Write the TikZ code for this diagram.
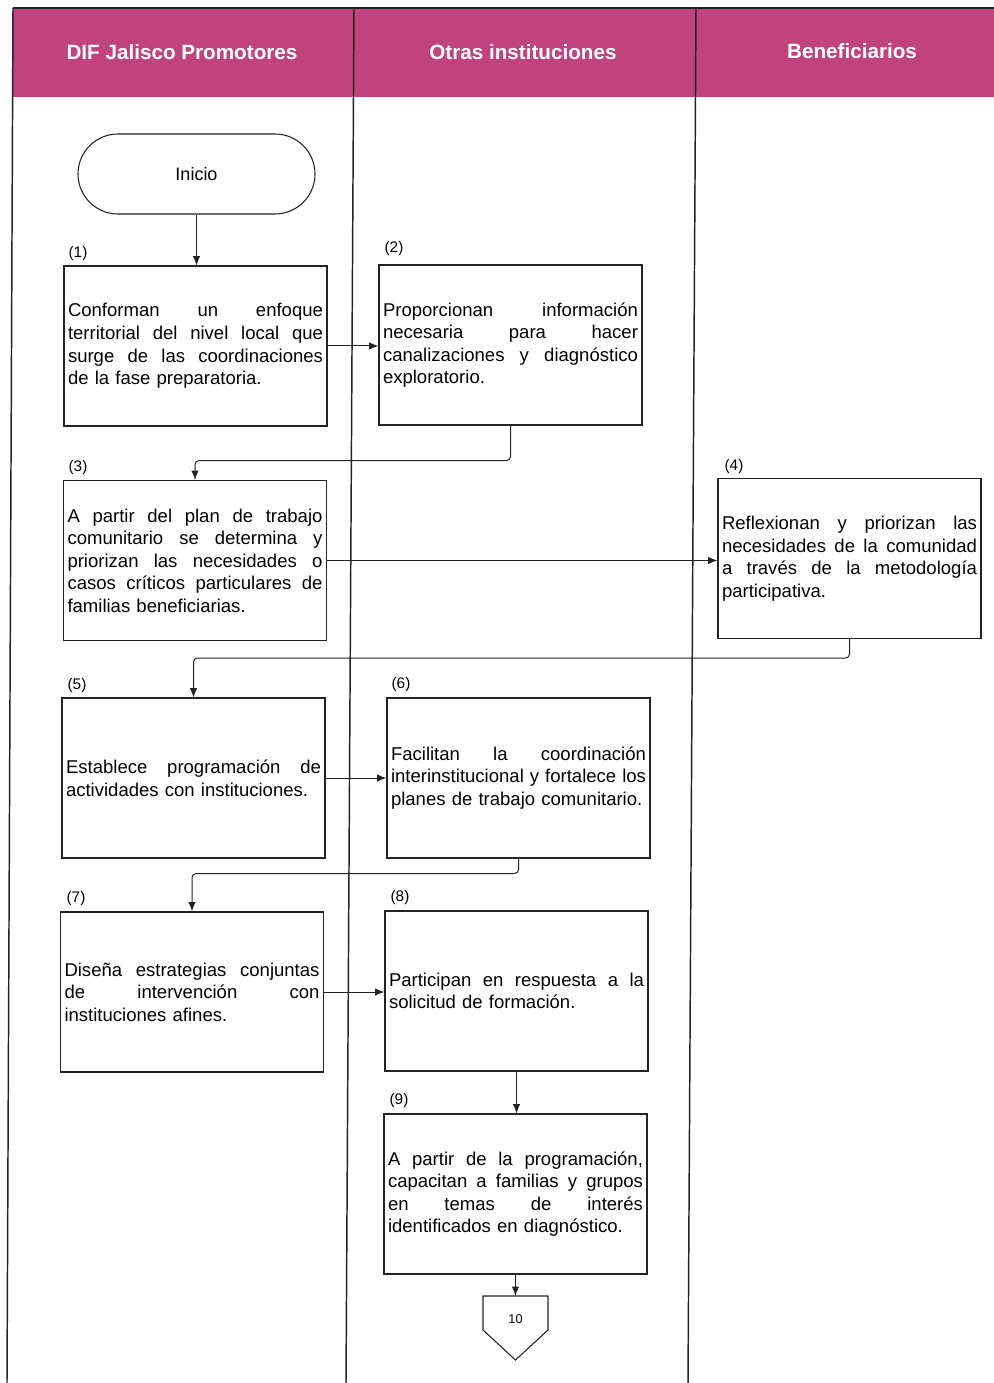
\documentclass[tikz,border=0pt]{standalone}
\usepackage{fontspec}
\setmainfont{Liberation Sans}
\usetikzlibrary{arrows.meta}
\definecolor{hdr}{RGB}{192,66,126}
\definecolor{ink}{RGB}{35,35,35}
\newcommand\jl[1]{\leavevmode\hbox to\hsize{\spaceskip=0.278em plus 1fil\relax #1}}
\begin{document}
\begin{tikzpicture}[x=0.75pt,y=-0.75pt,
  lane/.style={line width=1.1pt, draw=ink},
  box/.style={draw=ink, line width=0.8pt, text width=191.25pt, inner xsep=3pt, inner ysep=0pt,
    minimum height=120pt, align=left, font=\fontsize{13.9}{16.9}\selectfont},
  num/.style={font=\fontsize{11.5}{13}\selectfont},
  conn/.style={draw=ink, line width=0.75pt, -{Latex[length=7pt,width=5.5pt]}, rounded corners=3pt},
  hdrtext/.style={text=white, font=\bfseries\fontsize{15.5}{18}\selectfont}]
\useasboundingbox[fill=white] (0,0) rectangle (994,1383);
% header band
\fill[hdr] (13,8) -- (994,8) -- (994,97) -- (12.4,97) -- cycle;
\draw[lane] (13,8) -- (994,8);
\draw[lane] (13,8) -- (7,1383);
\draw[lane] (354,8) -- (346,1383);
\draw[lane] (696,8) -- (688,1383);
\node[hdrtext] (hd1) at (182,52) {DIF Jalisco Promotores};
\node[hdrtext] (hd2) at (523,52) {Otras instituciones};
\node[hdrtext] (hd3) at (852,51) {Beneficiarios};
% start
\node[draw=ink, line width=0.8pt, rounded corners=30pt, minimum width=177.75pt, minimum height=60pt,
  font=\fontsize{13.5}{16}\selectfont] (ini) at (196.5,174) {Inicio};
% boxes
\node[box] (b1) at (195.5,346) {\jl{Conforman un enfoque}\\\jl{territorial del nivel local que}\\\jl{surge de las coordinaciones}\\de la fase preparatoria.};
\node[box] (b2) at (510.5,345) {\jl{Proporcionan información}\\\jl{necesaria para hacer}\\\jl{canalizaciones y diagnóstico}\\exploratorio.};
\node[box] (b3) at (195,560.5) {\jl{A partir del plan de trabajo}\\\jl{comunitario se determina y}\\\jl{priorizan las necesidades o}\\\jl{casos críticos particulares de}\\familias beneficiarias.};
\node[box] (b4) at (849.5,558.5) {\jl{Reflexionan y priorizan las}\\\jl{necesidades de la comunidad}\\\jl{a través de la metodología}\\participativa.};
\node[box] (b5) at (193.5,778) {\jl{Establece programación de}\\actividades con instituciones.};
\node[box] (b6) at (518.5,778) {\jl{Facilitan la coordinación}\\\jl{interinstitucional y fortalece los}\\planes de trabajo comunitario.};
\node[box] (b7) at (192,992) {\jl{Diseña estrategias conjuntas}\\\jl{de intervención con}\\instituciones afines.};
\node[box] (b8) at (516.5,991) {\jl{Participan en respuesta a la}\\solicitud de formación.};
\node[box] (b9) at (515.5,1194) {\jl{A partir de la programación,}\\\jl{capacitan a familias y grupos}\\\jl{en temas de interés}\\identificados en diagnóstico.};
% numbers
\node[num] (l1) at (78,254) {(1)};
\node[num] (l2) at (394,249) {(2)};
\node[num] (l3) at (78,468) {(3)};
\node[num] (l4) at (734,467) {(4)};
\node[num] (l5) at (77,686) {(5)};
\node[num] (l6) at (401,685) {(6)};
\node[num] (l7) at (76,899) {(7)};
\node[num] (l8) at (400,898) {(8)};
\node[num] (l9) at (399,1101) {(9)};
% off-page connector
\coordinate (ptop) at (515.5,1296);
\draw[draw=ink, line width=0.8pt, line join=miter] (483,1296) -- (548,1296) -- (548,1330) -- (515.5,1360) -- (483,1330) -- cycle;
\node[font=\fontsize{9.5}{11}\selectfont] (p10) at (515.5,1319) {10};
% connectors
\draw[conn] (ini.south) -- (ini.south |- b1.north);
\draw[conn] (b1.east) -- (b1.east -| b2.west);
\draw[conn] (b2.south) -- ++(0,35) -| (b3.north);
\draw[conn] (b3.east) -- (b3.east -| b4.west);
\draw[conn] (b4.south) -- ++(0,19) -| (b5.north);
\draw[conn] (b5.east) -- (b5.east -| b6.west);
\draw[conn] (b6.south) -- ++(0,15) -| (b7.north);
\draw[conn] (b7.east) -- (b7.east -| b8.west);
\draw[conn] (b8.south) -- (b8.south |- b9.north);
\draw[conn] (b9.south) -- (ptop);
\end{tikzpicture}
\end{document}
